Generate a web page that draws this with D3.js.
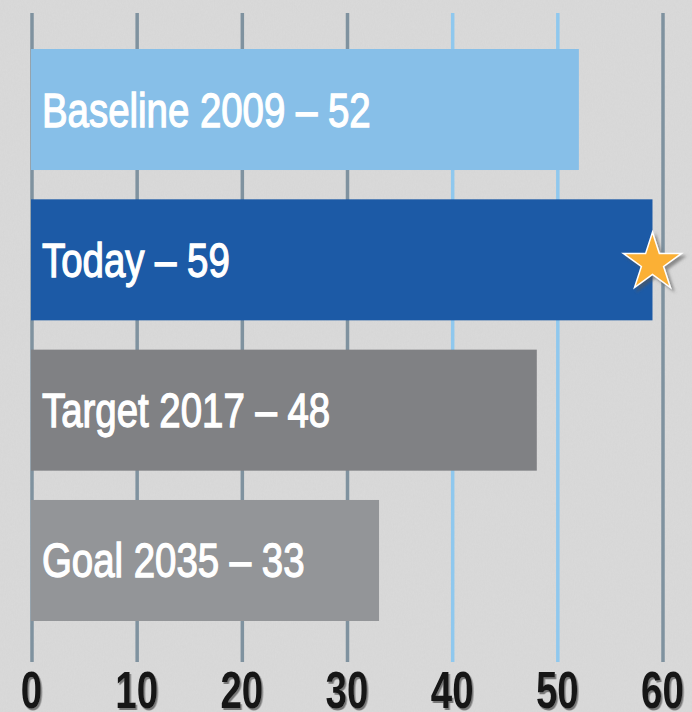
<!DOCTYPE html>
<html><head><meta charset="utf-8">
<script src="https://cdn.jsdelivr.net/npm/d3@7"></script>
<style>
html,body{margin:0;padding:0;background:#d9d9d9;}
svg{display:block;}
</style></head>
<body>
<svg id="chart" width="692" height="712"></svg>
<script>
const categories = ["Baseline 2009", "Today", "Target 2017", "Goal 2035"];
const values = [52, 59, 48, 33];
const barColors = ["#87bfe8", "#1c5aa6", "#808184", "#939598"];
const tickValues = [0, 10, 20, 30, 40, 50, 60];
const gridColors = ["#7f929f", "#7f929f", "#7f929f", "#7f929f", "#8fc8ee", "#8fc8ee", "#7f929f"];
const starCategory = "Today";

const W = 692, H = 712;
const svg = d3.select("#chart");

// paper texture background
const defs = svg.append("defs");
const f = defs.append("filter").attr("id", "paper").attr("x", 0).attr("y", 0).attr("width", "100%").attr("height", "100%");
f.append("feTurbulence").attr("type", "fractalNoise").attr("baseFrequency", "0.9 0.35").attr("numOctaves", 3).attr("seed", 4).attr("result", "n");
f.append("feColorMatrix").attr("in", "n").attr("type", "matrix")
  .attr("values", "0 0 0 0 0.5  0 0 0 0 0.5  0 0 0 0 0.5  0 0 0 0.22 0");
svg.append("rect").attr("width", W).attr("height", H).attr("fill", "#dadada");
svg.append("rect").attr("width", W).attr("height", H).attr("filter", "url(#paper)").attr("opacity", 0.6);

const sh = defs.append("filter").attr("id", "starshadow").attr("x", "-50%").attr("y", "-50%").attr("width", "200%").attr("height", "200%");
sh.append("feDropShadow").attr("dx", 3).attr("dy", 3).attr("stdDeviation", 1.5).attr("flood-color", "#555").attr("flood-opacity", 0.6);

const tsh = defs.append("filter").attr("id", "tickshadow").attr("x", "-30%").attr("y", "-30%").attr("width", "160%").attr("height", "160%");
tsh.append("feDropShadow").attr("dx", 2).attr("dy", 2).attr("stdDeviation", 0.6).attr("flood-color", "#666").attr("flood-opacity", 0.85);

const x = d3.scaleLinear().domain([0, 60]).range([32, 663]);
const y = d3.scaleBand().domain(categories).range([49, 621]).paddingInner(0.195).paddingOuter(0);

// gridlines
svg.append("g").selectAll("line").data(tickValues).join("line")
  .attr("x1", d => x(d)).attr("x2", d => x(d))
  .attr("y1", 13).attr("y2", 662)
  .attr("stroke", (d, i) => gridColors[i]).attr("stroke-width", 3.5);

// bars
const rows = categories.map((c, i) => ({c, v: values[i], col: barColors[i]}));
svg.append("g").selectAll("rect").data(rows).join("rect")
  .attr("x", x(0) - 1).attr("y", d => y(d.c))
  .attr("width", d => x(d.v) - x(0) + 1).attr("height", y.bandwidth())
  .attr("fill", d => d.col);

// labels
svg.append("g").selectAll("text").data(rows).join("text")
  .attr("transform", d => `translate(42,${y(d.c) + y.bandwidth() / 2 + 17}) scale(0.8,1)`)
  .attr("fill", "#fff")
  .attr("stroke", "#fff").attr("stroke-width", 1.3)
  .style("font-family", "'Liberation Sans', Arial, sans-serif")
  .style("font-size", "48px")
  .text(d => `${d.c} – ${d.v}`);

// star
const sr = rows.find(r => r.c === starCategory);
svg.append("path")
  .attr("d", d3.symbol(d3.symbolStar, 1050)())
  .attr("transform", `translate(${x(sr.v)},${y(sr.c) + y.bandwidth() / 2 + 3})`)
  .attr("fill", "#fbb034").attr("stroke", "#fff").attr("stroke-width", 1.5)
  .attr("filter", "url(#starshadow)");

// axis tick labels
const axis = d3.axisBottom(x).tickValues(tickValues).tickSize(0).tickPadding(0).tickFormat(d3.format("d"));
const gx = svg.append("g").attr("transform", "translate(0,672)").call(axis);
gx.select(".domain").remove();
gx.selectAll(".tick text")
  .attr("transform", "translate(-1,36) scale(0.74,1)").attr("y", 0).attr("dy", 0).attr("fill", "#141414")
  .attr("filter", "url(#tickshadow)")
  .style("font-family", "'Liberation Sans', sans-serif").style("font-weight", "bold").style("font-size", "52px");
</script>
</body></html>
